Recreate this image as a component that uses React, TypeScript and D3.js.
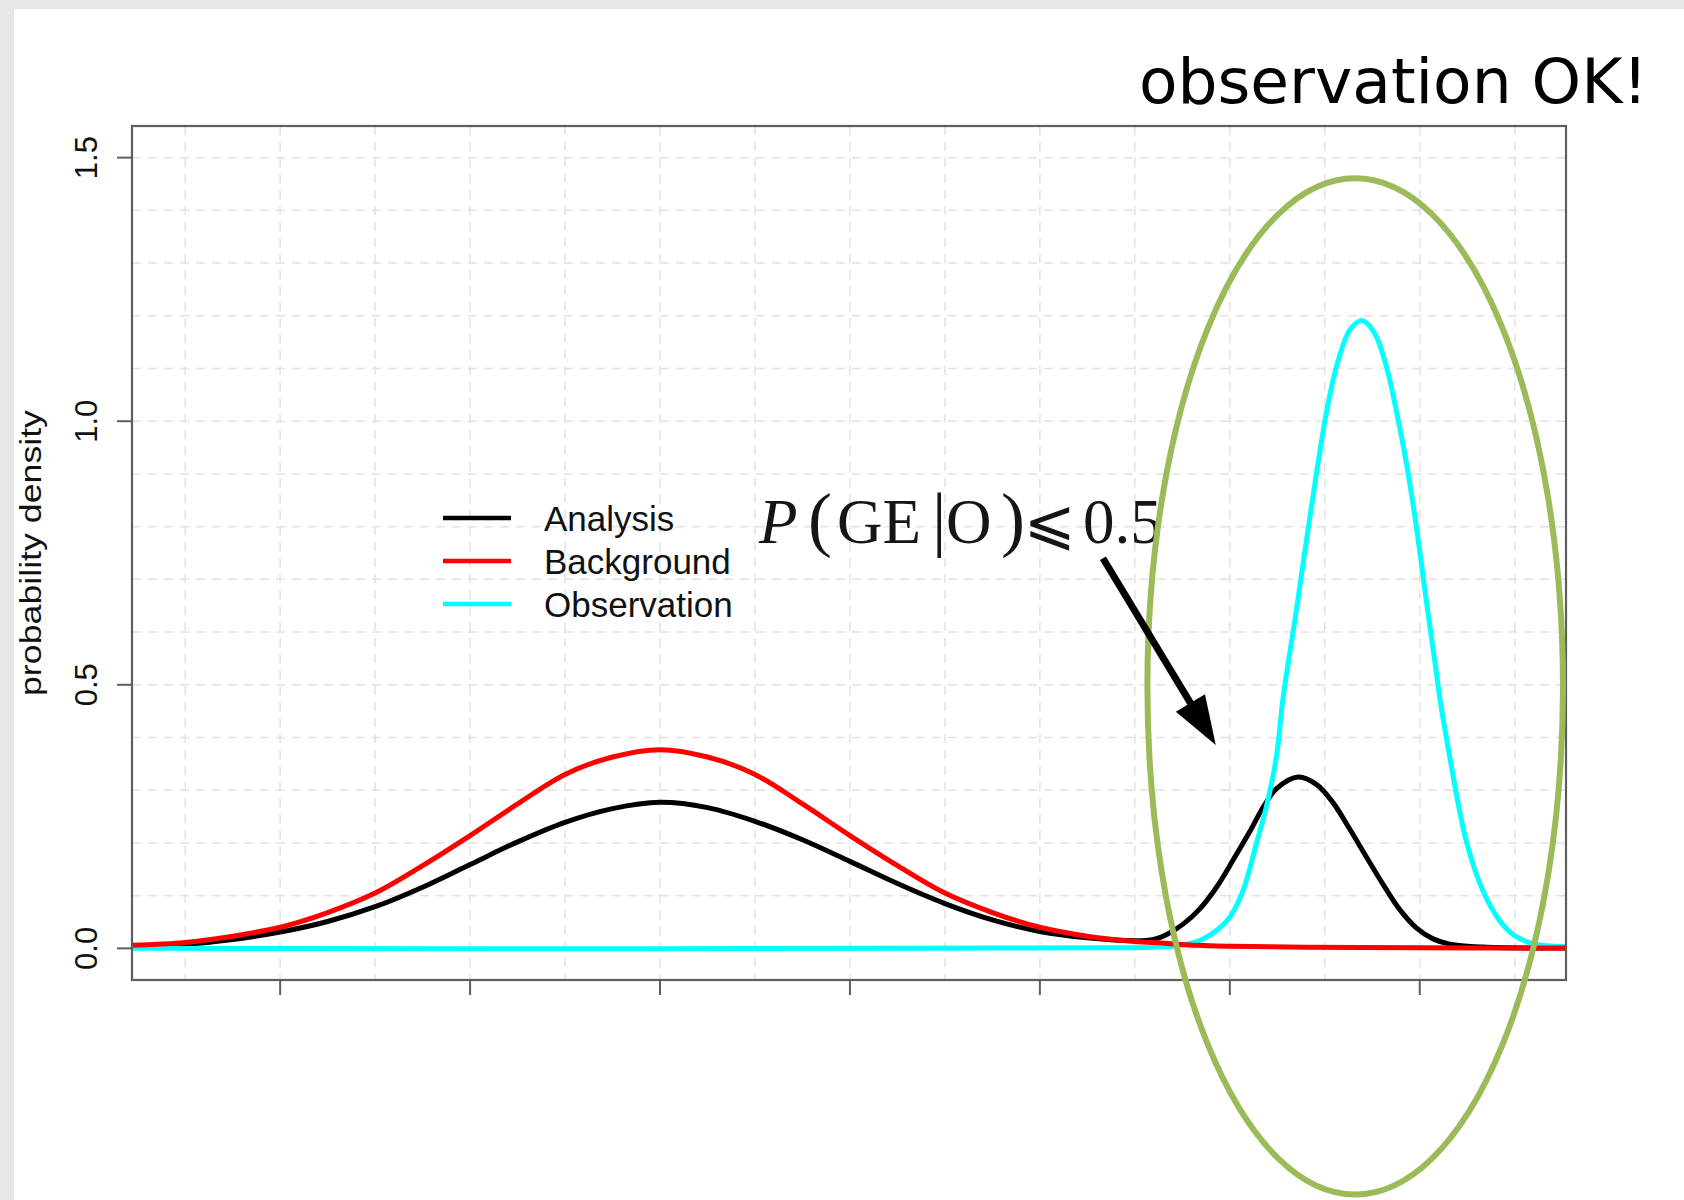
import React, { useEffect } from "react";
import * as d3 from "d3";

// ---- axis ticks / grid ----
const xTicks = [0, 5, 10, 15, 20, 25, 30];
const yTicks = [0, 0.5, 1.0, 1.5];
const yTickLabels = ["0.0", "0.5", "1.0", "1.5"];
const xGrid = [-2.5, 0, 2.5, 5, 7.5, 10, 12.5, 15, 17.5, 20, 22.5, 25, 27.5, 30, 32.5];
const yGrid = [0, 0.1, 0.2, 0.3, 0.4, 0.5, 0.6, 0.7, 0.8, 0.9, 1.0, 1.1, 1.2, 1.3, 1.4, 1.5];

// ---- series ----
const analysisX = [-3.9, -2.5, -1.25, 0, 1.25, 2.5, 3.75, 5, 6.25, 7.5, 8.75, 10, 11.25, 12.5, 13.75, 15, 16.25, 17.5, 18.75, 20, 21.25, 22.5, 23.0, 23.33, 23.77, 24.21, 24.65, 25.09, 25.53, 25.88, 26.23, 26.8, 27.28, 27.72, 28.16, 28.6, 29.03, 29.47, 29.91, 30.35, 30.79, 31.66, 33.85];
const analysisY = [0.0044, 0.0078, 0.017, 0.031, 0.051, 0.079, 0.116, 0.159, 0.202, 0.239, 0.265, 0.277, 0.267, 0.241, 0.206, 0.165, 0.123, 0.085, 0.054, 0.032, 0.02, 0.0145, 0.017, 0.026, 0.046, 0.075, 0.116, 0.168, 0.222, 0.268, 0.303, 0.325, 0.311, 0.276, 0.226, 0.173, 0.122, 0.074, 0.039, 0.018, 0.008, 0.0025, 0.0008];

const backgroundX = [-3.9, -2.5, -1.25, 0, 1.25, 2.5, 3.75, 5, 6.25, 7.5, 8.75, 10, 11.25, 12.5, 13.75, 15, 16.25, 17.5, 18.75, 20, 21.25, 22.5, 23.2, 23.8, 25, 27, 30, 33.85];
const backgroundY = [0.0057, 0.011, 0.023, 0.04, 0.068, 0.105, 0.157, 0.214, 0.274, 0.33, 0.363, 0.377, 0.363, 0.33, 0.274, 0.214, 0.157, 0.105, 0.068, 0.04, 0.023, 0.013, 0.01, 0.007, 0.004, 0.002, 0.001, 0.0005];

const observationX = [-3.9, 22.5, 23.33, 23.77, 24.21, 24.65, 25.0, 25.35, 25.7, 25.96, 26.23, 26.4, 26.75, 27.02, 27.28, 27.54, 27.81, 28.16, 28.48, 28.81, 29.12, 29.38, 29.65, 29.91, 30.17, 30.44, 30.53, 30.79, 31.22, 31.66, 32.1, 32.48, 32.98, 33.85];
const observationY = [0, 0.001, 0.003, 0.007, 0.015, 0.034, 0.059, 0.11, 0.199, 0.268, 0.365, 0.474, 0.64, 0.775, 0.901, 1.015, 1.104, 1.173, 1.191, 1.167, 1.104, 1.021, 0.92, 0.8, 0.661, 0.522, 0.474, 0.363, 0.205, 0.11, 0.053, 0.025, 0.009, 0.003];

const legendLabels = ["Analysis", "Background", "Observation"];
const legendColors = ["#000000", "#ff0000", "#00ffff"];

// annotations in data coordinates
const arrowFrom: [number, number] = [21.66, 0.74];
const arrowTo: [number, number] = [24.63, 0.386];
const ellipseCenter: [number, number] = [28.3, 0.497];
const ellipseRadii: [number, number] = [5.47, 0.964];

export default function App() {
  useEffect(() => {
    document.body.style.margin = "0";
  }, []);

  const W = 1684;
  const H = 1200;
  const x = d3.scaleLinear().domain([-3.9, 33.85]).range([132, 1566]);
  const y = d3.scaleLinear().domain([-0.06, 1.56]).range([980, 126]);
  const [x0, x1] = x.range();
  const [y0, y1] = y.range();

  const line = d3
    .line<[number, number]>()
    .x((d) => x(d[0]))
    .y((d) => y(d[1]))
    .curve(d3.curveCatmullRom.alpha(0.5));

  const zip = (xs: number[], ys: number[]) => xs.map((v, i) => [v, ys[i]] as [number, number]);
  const series = [
    { key: "a", pts: zip(analysisX, analysisY), color: "#000000" },
    { key: "o", pts: zip(observationX, observationY), color: "#00ffff" },
    { key: "b", pts: zip(backgroundX, backgroundY), color: "#ff0000" },
  ];

  // arrow geometry
  const ax0 = x(arrowFrom[0]);
  const ay0 = y(arrowFrom[1]);
  const ax1 = x(arrowTo[0]);
  const ay1 = y(arrowTo[1]);
  const len = Math.hypot(ax1 - ax0, ay1 - ay0);
  const ux = (ax1 - ax0) / len;
  const uy = (ay1 - ay0) / len;
  const headLen = 49;
  const headHalf = 17;
  const bx = ax1 - ux * headLen;
  const by = ay1 - uy * headLen;
  const head = [
    [ax1, ay1],
    [bx - uy * headHalf, by + ux * headHalf],
    [bx + uy * headHalf, by - ux * headHalf],
  ]
    .map((p) => p.join(","))
    .join(" ");

  const ecx = x(ellipseCenter[0]);
  const ecy = y(ellipseCenter[1]);
  const erx = x(ellipseCenter[0] + ellipseRadii[0]) - ecx;
  const ery = ecy - y(ellipseCenter[1] + ellipseRadii[1]);

  const sans = "'Liberation Sans', Arial, Helvetica, sans-serif";
  const serif = "'Liberation Serif', 'Times New Roman', serif";

  return (
    <svg width={W} height={H} style={{ display: "block" }} xmlns="http://www.w3.org/2000/svg">
      <defs>
        <clipPath id="plotClip">
          <rect x={x0} y={y1} width={x1 - x0} height={y0 - y1} />
        </clipPath>
      </defs>
      <rect x={0} y={0} width={W} height={H} fill="#e6e6e6" />
      <rect x={14} y={9} width={W - 14} height={H - 9} fill="#ffffff" />

      {/* grid */}
      <g stroke="#e2e2e2" strokeWidth={1.5} strokeDasharray="9 7">
        {xGrid.map((g) => (
          <line key={"gx" + g} x1={x(g)} x2={x(g)} y1={y1} y2={y0} />
        ))}
        {yGrid.map((g) => (
          <line key={"gy" + g} x1={x0} x2={x1} y1={y(g)} y2={y(g)} />
        ))}
      </g>

      {/* curves */}
      <g clipPath="url(#plotClip)" fill="none" strokeWidth={5} strokeLinejoin="round" strokeLinecap="round">
        {series.map((s) => (
          <path key={s.key} d={line(s.pts) || ""} stroke={s.color} />
        ))}
      </g>

      {/* box */}
      <rect x={x0} y={y1} width={x1 - x0} height={y0 - y1} fill="none" stroke="#5e5e5e" strokeWidth={2.2} />

      {/* ticks */}
      <g stroke="#5e5e5e" strokeWidth={2}>
        {yTicks.map((t) => (
          <line key={"yt" + t} x1={x0 - 15} x2={x0} y1={y(t)} y2={y(t)} />
        ))}
        {xTicks.map((t) => (
          <line key={"xt" + t} x1={x(t)} x2={x(t)} y1={y0} y2={y0 + 15} />
        ))}
      </g>
      {yTicks.map((t, i) => (
        <text
          key={"yl" + t}
          transform={`translate(97,${y(t)}) rotate(-90)`}
          textAnchor="middle"
          fontFamily={sans}
          fontSize={31}
          fill="#111"
        >
          {yTickLabels[i]}
        </text>
      ))}
      <text
        transform={`translate(41,553) rotate(-90)`}
        textAnchor="middle"
        fontFamily={sans}
        fontSize={30}
        fill="#111"
        textLength={286}
        lengthAdjust="spacingAndGlyphs"
      >
        probability density
      </text>

      {/* legend */}
      {legendLabels.map((lab, i) => (
        <g key={lab}>
          <line x1={443} x2={511} y1={518 + i * 43} y2={518 + i * 43} stroke={legendColors[i]} strokeWidth={4.5} />
          <text x={544} y={531 + i * 43} fontFamily={sans} fontSize={35} fill="#111">
            {lab}
          </text>
        </g>
      ))}

      {/* formula */}
      <text y={543} fill="#151515" fontFamily={serif} fontSize={63}>
        <tspan x={759} fontStyle="italic">P</tspan>
        <tspan x={808} fontSize={72}>(</tspan>
        <tspan x={837}>GE</tspan>
        <tspan x={932} fontSize={72}>|</tspan>
        <tspan x={946}>O</tspan>
        <tspan x={1001} fontSize={72}>)</tspan>
        <tspan x={1024} fontFamily="'DejaVu Sans', 'DejaVu Serif', serif" fontSize={62}>⩽</tspan>
        <tspan x={1083}>0.5</tspan>
      </text>

      {/* highlight ellipse */}
      <ellipse cx={ecx} cy={ecy} rx={erx} ry={ery} fill="none" stroke="#9bbb59" strokeWidth={6} />

      {/* arrow */}
      <line x1={ax0} y1={ay0} x2={bx + ux * 4} y2={by + uy * 4} stroke="#000" strokeWidth={7} />
      <polygon points={head} fill="#000" />

      {/* title */}
      <text x={1139} y={103} fontFamily="'DejaVu Sans', Verdana, sans-serif" fontSize={63} fill="#000">
        observation OK!
      </text>
    </svg>
  );
}
